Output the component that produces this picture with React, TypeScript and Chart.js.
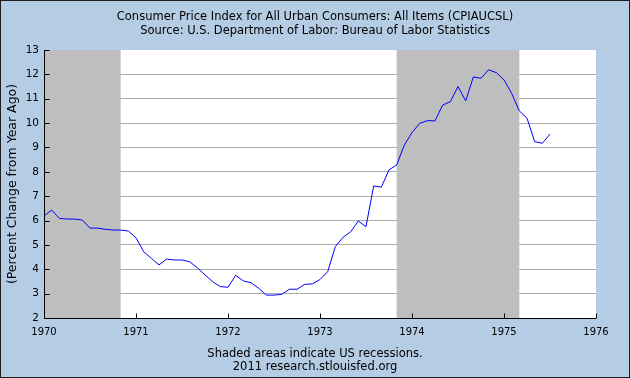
import { useEffect, useRef } from 'react';
import { Chart, registerables } from 'chart.js';

Chart.register(...registerables);

// ---- data (monthly, Jan 1970 .. Jul 1975) ----
const startYear = 1970;
const cpiYoY: number[] = [
  6.19, 6.43, 6.09, 6.06, 6.06, 6.02, 5.69, 5.69, 5.64, 5.61, 5.61, 5.57,
  5.29, 4.72, 4.45, 4.18, 4.42, 4.38, 4.38, 4.31, 4.06, 3.77, 3.49, 3.29,
  3.26, 3.75, 3.52, 3.45, 3.22, 2.94, 2.94, 2.97, 3.18, 3.18, 3.38, 3.40,
  3.58, 3.90, 4.93, 5.31, 5.54, 5.98, 5.75, 7.42, 7.37, 8.08, 8.28, 9.10,
  9.61, 9.99, 10.10, 10.09, 10.74, 10.88, 11.50, 10.91, 11.89, 11.84, 12.19, 12.07,
  11.77, 11.22, 10.50, 10.20, 9.24, 9.17, 9.55,
];
// recession periods as [start, end] in fractional years
const recessionStarts: number[] = [1969 + 11 / 12, 1973 + 10 / 12];
const recessionEnds: number[] = [1970 + 10 / 12, 1975 + 2 / 12];

const xMin = 1970;
const xMax = 1976;
const yMin = 2;
const yMax = 13;

const titleLines = [
  'Consumer Price Index for All Urban Consumers: All Items (CPIAUCSL)',
  'Source: U.S. Department of Labor: Bureau of Labor Statistics',
];
const footerLines = ['Shaded areas indicate US recessions.', '2011 research.stlouisfed.org'];
const yTitle = '(Percent Change from Year Ago)';

const BG = '#b4cce4';
const FONT = 'DejaVu Sans';

const framePlugin = {
  id: 'fredFrame',
  beforeDraw(chart: any) {
    const { ctx, chartArea: a, width, height } = chart;
    ctx.save();
    ctx.fillStyle = BG;
    ctx.fillRect(0, 0, width, height);
    ctx.fillStyle = '#ffffff';
    ctx.fillRect(a.left, a.top, a.right - a.left, a.bottom - a.top);
    ctx.strokeStyle = '#1e1e1e';
    ctx.lineWidth = 1;
    ctx.strokeRect(0.5, 0.5, width - 1, height - 1);
    ctx.restore();
  },
  beforeDatasetsDraw(chart: any) {
    const { ctx, chartArea: a } = chart;
    const xs = chart.scales.x;
    ctx.save();
    ctx.fillStyle = '#bebebe';
    for (let i = 0; i < recessionStarts.length; i++) {
      const s = Math.max(xs.getPixelForValue(recessionStarts[i]), a.left);
      const e = Math.min(xs.getPixelForValue(recessionEnds[i]), a.right);
      ctx.fillRect(s, a.top, e - s, a.bottom - a.top);
    }
    ctx.restore();
  },
  afterDatasetsDraw(chart: any) {
    const { ctx, chartArea: a } = chart;
    const xs = chart.scales.x;
    const ys = chart.scales.y;
    ctx.save();
    ctx.strokeStyle = '#000000';
    ctx.lineWidth = 1;
    const lx = Math.round(a.left) + 0.5;
    const by = Math.round(a.bottom) + 0.5;
    ctx.beginPath();
    ctx.moveTo(lx, Math.round(a.top));
    ctx.lineTo(lx, by);
    ctx.lineTo(Math.round(a.right), by);
    for (const t of ys.ticks) {
      const py = Math.round(ys.getPixelForValue(t.value)) + 0.5;
      ctx.moveTo(lx, py);
      ctx.lineTo(lx + 5, py);
    }
    for (const t of xs.ticks) {
      const px = Math.round(xs.getPixelForValue(t.value)) + 0.5;
      ctx.moveTo(px, by);
      ctx.lineTo(px, by - 5);
    }
    ctx.stroke();
    ctx.restore();
  },
};

export default function App() {
  const ref = useRef<HTMLCanvasElement | null>(null);
  useEffect(() => {
    document.body.style.margin = '0';
    const canvas = ref.current;
    if (!canvas) return;
    const points = cpiYoY.map((v, i) => ({ x: startYear + i / 12, y: v }));
    const chart = new Chart(canvas, {
      type: 'line',
      data: {
        datasets: [
          {
            data: points,
            borderColor: '#0000ff',
            borderWidth: 1,
            pointRadius: 0,
            tension: 0,
            fill: false,
          },
        ],
      },
      options: {
        responsive: false,
        animation: false,
        devicePixelRatio: 1,
        layout: { padding: 0 },
        plugins: {
          legend: { display: false },
          tooltip: { enabled: false },
          title: {
            display: true,
            text: titleLines,
            color: '#000',
            font: { family: FONT, size: 11.5, weight: 'normal', lineHeight: '14px' },
            padding: { top: 10, bottom: 12 },
          },
          subtitle: {
            display: true,
            position: 'bottom',
            text: footerLines,
            color: '#000',
            font: { family: FONT, size: 11.5, weight: 'normal', lineHeight: '13px' },
            padding: { top: 10, bottom: 4 },
          },
        },
        scales: {
          x: {
            type: 'linear',
            min: xMin,
            max: xMax,
            afterFit: (s: any) => {
              s.height = 20;
            },
            grid: { display: false, drawTicks: false },
            border: { display: false },
            ticks: {
              stepSize: 1,
              padding: 8,
              autoSkip: false,
              maxRotation: 0,
              color: '#000',
              font: { family: FONT, size: 10 },
              callback: (v: any) => String(v),
            },
          },
          y: {
            min: yMin,
            max: yMax,
            afterFit: (s: any) => {
              s.width = 44;
            },
            grid: {
              drawTicks: false,
              color: (c: any) => (c.tick && c.tick.value === yMax ? 'rgba(0,0,0,0)' : '#aaaaaa'),
              lineWidth: 1,
            },
            border: { display: false },
            ticks: {
              stepSize: 1,
              padding: 5,
              color: '#000',
              font: { family: FONT, size: 10.5 },
            },
            title: {
              display: true,
              text: yTitle,
              color: '#000',
              font: { family: FONT, size: 12.5 },
              padding: { top: 5, bottom: 0 },
            },
          },
          yRightSpacer: {
            type: 'linear',
            position: 'right',
            display: true,
            min: yMin,
            max: yMax,
            afterFit: (s: any) => {
              s.width = 34;
            },
            grid: { display: false, drawTicks: false },
            border: { display: false },
            ticks: { display: false },
          },
        },
      },
      plugins: [framePlugin],
    } as any);
    return () => chart.destroy();
  }, []);
  return <canvas ref={ref} width={630} height={378} style={{ display: 'block', width: 630, height: 378 }} />;
}
